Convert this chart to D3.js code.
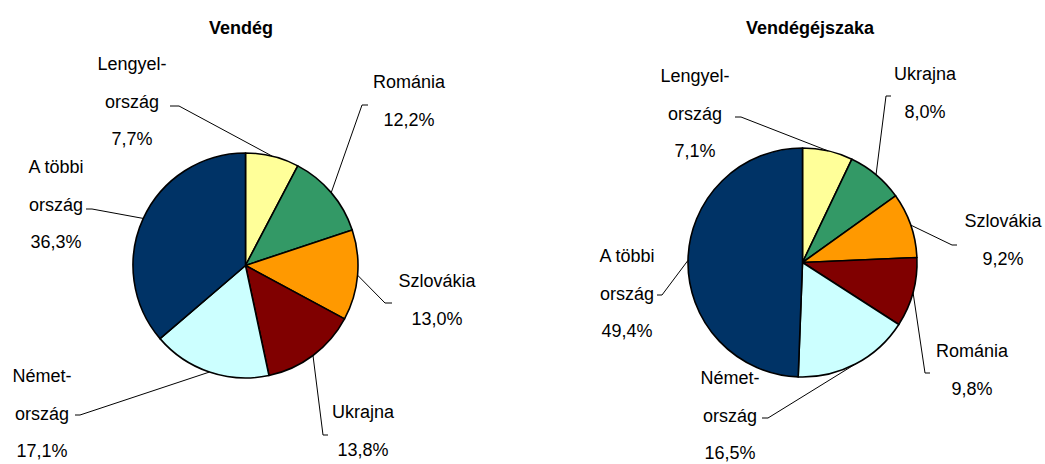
<!DOCTYPE html>
<html>
<head>
    <meta charset="utf-8" />
    <title>Vendég / Vendégéjszaka</title>
    <script type="text/javascript" src="https://cdn.jsdelivr.net/npm/d3@7"></script>
    <style>
        body { margin: 0; background: #fff; }
        text { font-family: "Liberation Sans", Arial, sans-serif; fill: #000; }
    </style>
</head>
<body>
    <script type="text/javascript">

        // data
        var guestCategories = ["Lengyel-\nország", "Románia", "Szlovákia", "Ukrajna", "Német-\nország", "A többi\nország"];
        var guestValues = [7.7, 12.2, 13.0, 13.8, 17.1, 36.3];

        var nightCategories = ["Lengyel-\nország", "Ukrajna", "Szlovákia", "Románia", "Német-\nország", "A többi\nország"];
        var nightValues = [7.1, 8.0, 9.2, 9.8, 16.5, 49.4];

        var sliceColors = ["#FFFF99", "#339966", "#FF9900", "#800000", "#CCFFFF", "#003366"];

        var w = 1045;
        var h = 464;
        var lineGap = 37.5;

        // label placement (text centre x, first baseline, leader elbow, leader end x)
        var charts = [
            {
                title: "Vendég", titleX: 241, titleY: 34,
                cx: 245.5, cy: 265.5, r: 112.5,
                cats: guestCategories, vals: guestValues,
                labels: [
                    { x: 132, y: 70, ex: 179, ey: 106, hx: 170 },
                    { x: 409, y: 88, ex: 362, ey: 105, hx: 368 },
                    { x: 437, y: 287, ex: 385, ey: 303, hx: 392 },
                    { x: 363, y: 418, ex: 323, ey: 435, hx: 328 },
                    { x: 42, y: 382, ex: 80, ey: 415, hx: 75 },
                    { x: 56, y: 173, ex: 92, ey: 209, hx: 86 }
                ]
            },
            {
                title: "Vendégéjszaka", titleX: 810, titleY: 34,
                cx: 802.5, cy: 262.5, r: 114.5,
                cats: nightCategories, vals: nightValues,
                labels: [
                    { x: 695, y: 82, ex: 741, ey: 117, hx: 735 },
                    { x: 925, y: 80, ex: 886, ey: 96, hx: 891 },
                    { x: 1003, y: 227, ex: 952, ey: 245, hx: 957 },
                    { x: 972, y: 357, ex: 925, ey: 373, hx: 930 },
                    { x: 730, y: 384, ex: 768, ey: 418, hx: 762 },
                    { x: 627, y: 262, ex: 662, ey: 295, hx: 657 }
                ]
            }
        ];

        var svg = d3.select("body")
            .append("svg")
            .attr("width", w)
            .attr("height", h);

        var pie = d3.pie().sort(null).value(function (d) { return d; });

        function fmt(v) { return v.toFixed(1).replace(".", ",") + "%"; }

        charts.forEach(function (c) {
            svg.append("text")
                .attr("x", c.titleX)
                .attr("y", c.titleY)
                .attr("text-anchor", "middle")
                .style("font-size", "18px")
                .style("font-weight", "bold")
                .text(c.title);

            var arc = d3.arc().innerRadius(0).outerRadius(c.r);
            var arcs = pie(c.vals);

            var g = svg.append("g")
                .attr("transform", "translate(" + c.cx + "," + c.cy + ")");

            g.selectAll("path")
                .data(arcs)
                .enter()
                .append("path")
                .attr("d", arc)
                .attr("fill", function (d, i) { return sliceColors[i]; })
                .attr("stroke", "#000")
                .attr("stroke-width", 1.6)
                .attr("stroke-linejoin", "round");

            // leader lines
            svg.append("g")
                .selectAll("polyline")
                .data(arcs)
                .enter()
                .append("polyline")
                .attr("fill", "none")
                .attr("stroke", "#000")
                .attr("stroke-width", 1)
                .attr("points", function (d, i) {
                    var a = (d.startAngle + d.endAngle) / 2;
                    var px = c.cx + c.r * Math.sin(a);
                    var py = c.cy - c.r * Math.cos(a);
                    var l = c.labels[i];
                    return [[px, py], [l.ex, l.ey], [l.hx, l.ey]].join(" ");
                });

            // labels
            arcs.forEach(function (d, i) {
                var l = c.labels[i];
                var lines = c.cats[i].split("\n").concat([fmt(d.data)]);
                var t = svg.append("text")
                    .attr("text-anchor", "middle")
                    .style("font-size", "18px");
                lines.forEach(function (s, k) {
                    t.append("tspan")
                        .attr("x", l.x)
                        .attr("y", l.y + k * lineGap)
                        .text(s);
                });
            });
        });

    </script>
</body>
</html>
